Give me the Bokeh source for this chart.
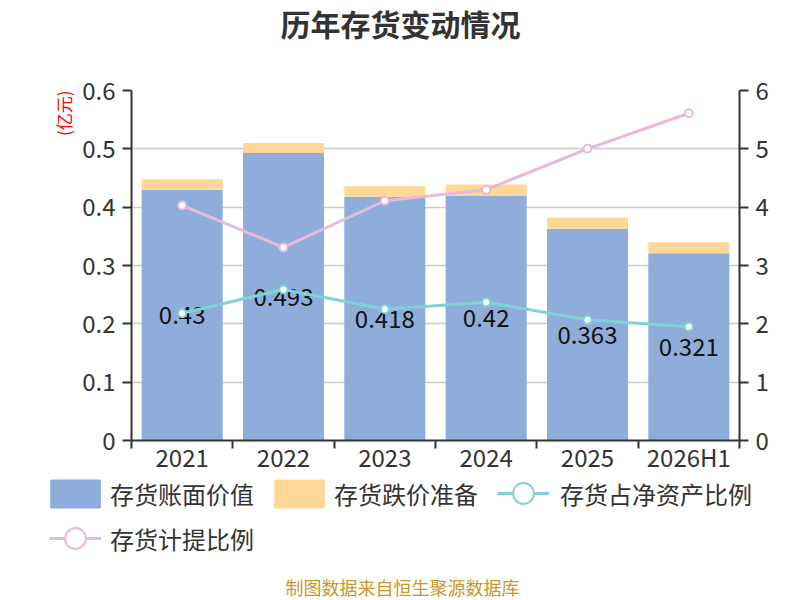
from bokeh.core.properties import value
from bokeh.embed import file_html
from bokeh.layouts import column
from bokeh.models import (ColumnDataSource, FixedTicker, Label, Legend,
                          LegendItem, LinearAxis, Range1d, Title)
from bokeh.plotting import figure
from bokeh.resources import INLINE

years = ["2021", "2022", "2023", "2024", "2025", "2026H1"]
book_value = [0.43, 0.493, 0.418, 0.42, 0.363, 0.321]       # 存货账面价值 (亿元)
impairment = [0.018, 0.017, 0.018, 0.019, 0.019, 0.019]    # 存货跌价准备 (亿元)
net_asset_ratio = [2.18, 2.59, 2.25, 2.37, 2.07, 1.95]     # 存货占净资产比例 (%)
provision_ratio = [4.03, 3.31, 4.11, 4.30, 5.00, 5.61]     # 存货计提比例 (%)

FONT = "Noto Sans CJK SC"
BLUE = "#8eaddb"
ORANGE = "#ffd898"
CYAN = "#80d2d6"
PINK = "#e6badc"
DARK = "#333333"

x = [i + 0.5 for i in range(len(years))]
src = ColumnDataSource(dict(
    x=x,
    book=book_value,
    imp=impairment,
    mid=[b / 2 for b in book_value],
    label=[str(b) for b in book_value],
    net=net_asset_ratio,
    prov=provision_ratio,
))


def blank_fig(height):
    # strip without axes; its frame is the whole strip
    f = figure(title=None, width=800, height=height, x_axis_type=None,
               y_axis_type=None, x_range=Range1d(100, 101),
               y_range=Range1d(100, 101), min_border=0,
               output_backend="svg", toolbar_location=None)
    f.outline_line_color = None
    f.frame_align = False
    return f


# ---- title strip
top = blank_fig(60)
top.add_layout(Label(x=400, y=38, x_units="screen", y_units="screen",
                     text="历年存货变动情况", text_align="center",
                     text_baseline="middle", text_font=FONT,
                     text_font_size="30px", text_font_style="bold",
                     text_color=DARK))

# ---- main chart
p = figure(
    title=None,
    width=800,
    height=416,
    x_range=Range1d(0, len(years)),
    y_range=Range1d(0, 0.6),
    output_backend="svg",
    toolbar_location=None,
    min_border_left=131,
    min_border_right=61,
    min_border_top=30,
    min_border_bottom=36,
)
p.frame_align = False
p.extra_y_ranges = {"pct": Range1d(0, 6)}
p.outline_line_color = None

bars = p.vbar_stack(["book", "imp"], x="x", width=0.8, source=src,
                    color=[BLUE, ORANGE], line_color=None)

p.text("x", "mid", text="label", source=src, text_align="center",
       text_baseline="middle", text_font=value(FONT),
       text_font_size="24px", text_color="#111111")

p.line("x", "net", source=src, y_range_name="pct", line_color=CYAN,
       line_width=3)
p.scatter("x", "net", source=src, y_range_name="pct", size=8,
          fill_color="white", line_color=CYAN, line_width=2)
p.line("x", "prov", source=src, y_range_name="pct", line_color=PINK,
       line_width=3)
p.scatter("x", "prov", source=src, y_range_name="pct", size=8,
          fill_color="white", line_color=PINK, line_width=2)

xa = p.xaxis[0]
xa.ticker = FixedTicker(ticks=x, minor_ticks=list(range(len(years) + 1)))
xa.major_label_overrides = {xi: y for xi, y in zip(x, years)}
xa.major_tick_out = 0
xa.major_tick_in = 0
xa.minor_tick_out = 8
xa.minor_tick_in = 0
xa.minor_tick_line_color = DARK
xa.minor_tick_line_width = 2
xa.major_label_standoff = -10

left_ticks = [i / 10 for i in range(7)]
ya = p.yaxis[0]
ya.ticker = FixedTicker(ticks=left_ticks)
ya.major_label_overrides = {t: f"{t:g}" for t in left_ticks}

ra = LinearAxis(y_range_name="pct", ticker=FixedTicker(ticks=list(range(7))))
p.add_layout(ra, "right")

for ax in [xa, ya, ra]:
    ax.axis_line_color = DARK
    ax.axis_line_width = 2
    ax.major_label_text_font = FONT
    ax.major_label_text_font_size = "24px"
    ax.major_label_text_color = DARK
for ax in [ya, ra]:
    ax.major_tick_out = 9
    ax.major_tick_in = 0
    ax.major_tick_line_color = DARK
    ax.major_tick_line_width = 2
    ax.minor_tick_line_color = None
    ax.major_label_standoff = 7

p.xgrid.visible = False
p.ygrid.ticker = FixedTicker(ticks=left_ticks)
p.ygrid.grid_line_color = "#cccccc"
p.ygrid.grid_line_width = 1.5

p.add_layout(Title(text="(亿元)", align="right", offset=0, standoff=8,
                   text_font=FONT, text_font_size="17px",
                   text_font_style="normal", text_color="red"), "left")

# ---- legend + source strip (legend glyphs fall outside this strip's ranges)
bottom = blank_fig(124)
lg_blue = bottom.vbar("x", top="book", width=0.8, source=src, color=BLUE)
lg_orange = bottom.vbar("x", top="imp", width=0.8, source=src, color=ORANGE)
lg_net = [bottom.line("x", "net", source=src, line_color=CYAN, line_width=3),
          bottom.scatter("x", "net", source=src, fill_color="white",
                         line_color=CYAN, line_width=2)]
lg_prov = [bottom.line("x", "prov", source=src, line_color=PINK, line_width=3),
           bottom.scatter("x", "prov", source=src, fill_color="white",
                          line_color=PINK, line_width=2)]


def add_legend(items, loc, gw, gh, standoff):
    bottom.add_layout(Legend(
        items=items, location=loc, orientation="horizontal",
        glyph_width=gw, glyph_height=gh, label_standoff=standoff,
        spacing=14, padding=0, margin=0, border_line_color=None,
        background_fill_alpha=0, label_text_font=FONT,
        label_text_font_size="24px", label_text_color=DARK))


add_legend([LegendItem(label="存货账面价值", renderers=[lg_blue]),
            LegendItem(label="存货跌价准备", renderers=[lg_orange])],
           (44, 89), 62, 35, 4)
add_legend([LegendItem(label="存货占净资产比例", renderers=lg_net)],
           (497, 79), 52, 56, 11)
add_legend([LegendItem(label="存货计提比例", renderers=lg_prov)],
           (49, 34), 52, 56, 9)

bottom.add_layout(Label(x=402, y=14, x_units="screen", y_units="screen",
                        text="制图数据来自恒生聚源数据库", text_align="center",
                        text_baseline="middle", text_font=FONT,
                        text_font_size="18px", text_color="#c8962b"))

open("out.html", "w").write(file_html(column(top, p, bottom), INLINE))
